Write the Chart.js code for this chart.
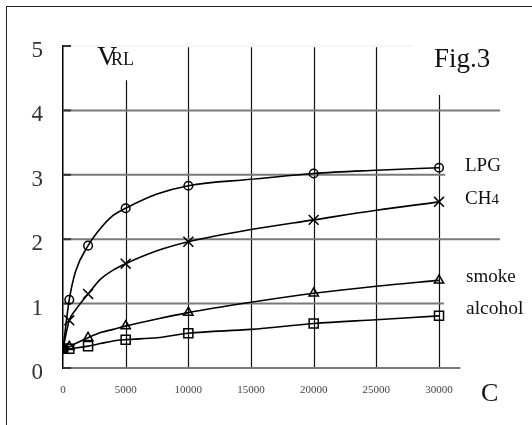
<!DOCTYPE html>
<html>
<head>
<meta charset="utf-8">
<style>
  html, body { margin: 0; padding: 0; background: #fff; overflow: hidden; }
  #wrap { position: relative; width: 532px; height: 425px; }
  #frame { position: absolute; left: 6px; top: 6px; width: 600px; height: 500px;
           border-left: 1.5px solid #222; border-top: 1.5px solid #222; }
  canvas { position: absolute; left: 0; top: 0; }
</style>
<script src="https://cdn.jsdelivr.net/npm/chart.js@4"></script>
</head>
<body>
<div id="wrap">
  <div id="frame"></div>
  <canvas id="chart" width="532" height="425"></canvas>
</div>
<script>
const cValues = [0, 500, 1000, 2000, 3000, 4000, 5000, 7500, 10000, 15000, 20000, 25000, 30000];
const markedC = [0, 500, 2000, 5000, 10000, 20000, 30000];
const lpg     = [0.30, 1.06, 1.50, 1.90, 2.17, 2.37, 2.48, 2.70, 2.83, 2.93, 3.02, 3.07, 3.11];
const ch4     = [0.30, 0.74, 0.90, 1.15, 1.38, 1.52, 1.62, 1.82, 1.96, 2.15, 2.30, 2.45, 2.58];
const smoke   = [0.30, 0.33, 0.38, 0.47, 0.55, 0.60, 0.65, 0.76, 0.86, 1.02, 1.16, 1.27, 1.36];
const alcohol = [0.30, 0.30, 0.31, 0.34, 0.38, 0.42, 0.44, 0.47, 0.54, 0.60, 0.69, 0.75, 0.81];
const xTicks = [0, 5000, 10000, 15000, 20000, 25000, 30000];
const yTicks = [0, 1, 2, 3, 4, 5];

// where the odd-length grid lines of the original stop (in data units)
const hLineEnds = [31700, 30400, 34865, 30500, 34865, 27900];
const vLineTops = [5, 4.47, 4.98, 4.98, 4.98, 4.98, 4.24];
const X_MAX = 34865;

const serif = '"Liberation Serif", "DejaVu Serif", serif';

function series(values) {
    return values.map((v, i) => ({ x: cValues[i], y: v }));
}

function markerSize(r) {
    return ctx => markedC.includes(ctx.raw.x) ? r : 0;
}

function makeSet(label, values, style, r, startFill) {
    return {
        label: label,
        data: series(values),
        borderColor: '#000',
        borderWidth: 1.6,
        pointStyle: style,
        pointRadius: markerSize(r),
        pointHoverRadius: 0,
        pointBorderColor: '#000',
        pointBorderWidth: 1.5,
        // the pile-up of markers at C = 0 reads as a solid block
        pointBackgroundColor: ctx => (startFill && ctx.raw.x === 0) ? '#000' : 'rgba(0,0,0,0)',
        cubicInterpolationMode: 'monotone',
        fill: false
    };
}

const figPlugin = {
    id: 'figPlugin',
    beforeDatasetsDraw(chart) {
        const { ctx, scales: { x, y } } = chart;
        ctx.save();
        // vertical grid lines
        ctx.strokeStyle = '#111';
        ctx.lineWidth = 1.2;
        xTicks.forEach((t, i) => {
            if (t === 0) return;
            const px = Math.round(x.getPixelForValue(t)) + 0.5;
            ctx.beginPath();
            ctx.moveTo(px, y.getPixelForValue(vLineTops[i]));
            ctx.lineTo(px, y.getPixelForValue(0));
            ctx.stroke();
        });
        // horizontal grid lines
        yTicks.forEach((t, i) => {
            const py = y.getPixelForValue(t);
            const x0 = x.getPixelForValue(0);
            ctx.strokeStyle = t === 5 ? '#eeeeee' : '#7a7a7a';
            ctx.lineWidth = t === 5 ? 1 : 2;
            ctx.beginPath();
            ctx.moveTo(x0, py);
            ctx.lineTo(x.getPixelForValue(hLineEnds[i]), py);
            ctx.stroke();
            ctx.strokeStyle = '#333';
            ctx.lineWidth = 2;
            ctx.beginPath();
            ctx.moveTo(x0, py);
            ctx.lineTo(x0 + 8, py);
            ctx.stroke();
        });
        ctx.restore();
    },
    afterDraw(chart) {
        const { ctx } = chart;
        ctx.save();
        ctx.fillStyle = '#111';
        ctx.textBaseline = 'alphabetic';
        ctx.textAlign = 'left';
        // axis titles
        ctx.font = '28px ' + serif;
        ctx.fillText('V', 97, 65);
        ctx.font = '18px ' + serif;
        ctx.fillText('RL', 111, 65);
        ctx.font = '27px ' + serif;
        ctx.fillText('Fig.3', 434, 67);
        ctx.font = '26px ' + serif;
        ctx.fillText('C', 481, 401);
        // series names
        ctx.font = '19px ' + serif;
        ctx.fillText('LPG', 465, 171);
        ctx.fillText('CH', 465, 204);
        const w = ctx.measureText('CH').width;
        ctx.font = '15px ' + serif;
        ctx.fillText('4', 465 + w, 204);
        ctx.font = '19px ' + serif;
        ctx.fillText('smoke', 466, 282);
        ctx.font = '19.5px ' + serif;
        ctx.fillText('alcohol', 466, 314);
        ctx.restore();
    }
};

new Chart(document.getElementById('chart'), {
    type: 'line',
    data: {
        datasets: [
            makeSet('LPG', lpg, 'circle', 4.3, false),
            makeSet('CH4', ch4, 'crossRot', 7, false),
            makeSet('smoke', smoke, 'triangle', 5.4, false),
            makeSet('alcohol', alcohol, 'rect', 6.4, true)
        ]
    },
    options: {
        responsive: false,
        animation: false,
        events: [],
        layout: { padding: { left: 0, top: 46, right: 32, bottom: 0 } },
        plugins: { legend: { display: false }, tooltip: { enabled: false }, title: { display: false } },
        scales: {
            x: {
                type: 'linear',
                min: 0,
                max: X_MAX,
                afterFit: s => { s.height = 57; },
                afterBuildTicks: s => { s.ticks = xTicks.map(v => ({ value: v })); },
                grid: { display: false, drawTicks: false },
                border: { display: false },
                ticks: {
                    padding: 16,
                    color: '#444',
                    font: { family: serif, size: 11 },
                    maxRotation: 0,
                    callback: v => String(v)
                }
            },
            y: {
                min: 0,
                max: 5,
                afterFit: s => { s.width = 63; },
                afterBuildTicks: s => { s.ticks = yTicks.map(v => ({ value: v })); },
                grid: { display: false, drawTicks: false },
                border: { display: true, color: '#000', width: 1.5 },
                ticks: {
                    padding: 20,
                    labelOffset: 5,
                    color: '#333',
                    font: { family: serif, size: 23 }
                }
            }
        }
    },
    plugins: [figPlugin]
});
</script>
</body>
</html>
